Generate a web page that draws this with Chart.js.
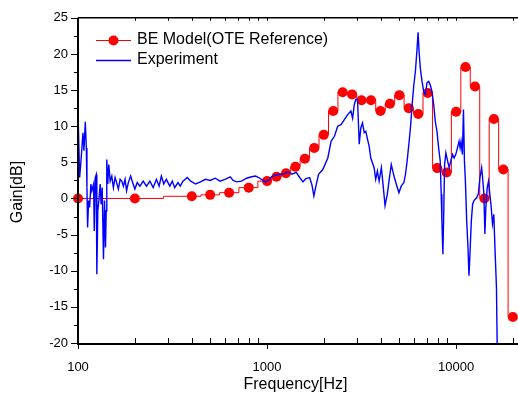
<!DOCTYPE html>
<html>
<head>
<meta charset="utf-8">
<title>Gain vs Frequency</title>
<script src="https://cdn.jsdelivr.net/npm/chart.js@4.4.1/dist/chart.umd.min.js"></script>
<style>
  html, body { margin: 0; padding: 0; background: #fff; }
  #wrap { width: 518px; height: 394px; }
</style>
</head>
<body>
<div id="wrap"><canvas id="gainChart" width="518" height="394"></canvas></div>
<script>
// BE model (OTE reference), one value per band centre
const modelFreq = [100, 200, 400, 500, 630, 800, 1000, 1122, 1259, 1413, 1585, 1778, 1995,
  2239, 2512, 2818, 3162, 3548, 3981, 4467, 5012, 5623, 6310, 7079, 7943, 8913, 10000,
  11220, 12589, 14125, 15849, 17783, 19953];
const modelGain = [0, 0, 0.3, 0.5, 0.8, 1.5, 2.4, 3.0, 3.5, 4.4, 5.5, 7.0, 8.8,
  12.1, 14.7, 14.4, 13.6, 13.6, 12.1, 13.1, 14.3, 12.5, 11.7, 14.6, 4.2, 3.6, 12.0,
  18.2, 15.5, 0, 11.0, 4.0, -16.4];

const expFreq = [100, 102, 103.7, 106.2, 107.5, 109.3, 110.7, 111.5, 112.4, 113.8, 115.2, 117,
  118.4, 120.9, 121.9, 123.4, 124.9, 125.8, 127.3, 128.9, 131, 132.6, 134.3, 136.4, 138.1,
  139.8, 141, 142, 143.7, 145.5, 148, 150.9, 153.9, 157.1, 160.1, 163.5, 167, 170.3, 173.8,
  177.4, 180.7, 184.6, 189.9, 194.5, 200, 205.7, 212.6, 221.2, 230.3, 240, 249.8, 260,
  268.5, 276, 284.2, 293.2, 305.9, 315.4, 324.6, 338, 347.5, 359, 378.6, 394.4, 418.8,
  444.5, 471.9, 501, 531.7, 564.5, 599.1, 639, 661.4, 690.7, 732.8, 779.1, 829, 870, 916.6,
  974.9, 1015, 1056, 1110, 1169, 1229, 1290, 1356, 1427, 1488, 1549, 1606, 1680, 1727,
  1769, 1813, 1873, 1972, 2096, 2181, 2272, 2365, 2461, 2564, 2669, 2777, 2835, 2894,
  2950, 3011, 3073, 3134, 3199, 3265, 3329, 3398, 3469, 3537, 3685, 3757, 3835, 3915,
  4025, 4123, 4209, 4327, 4417, 4541, 4692, 4824, 4984, 5125, 5295, 5399, 5510, 5625,
  5735, 5855, 5976, 6093, 6219, 6295, 6371, 6471, 6605, 6743, 6875, 7018, 7163, 7303,
  7454, 7610, 7759, 7920, 8084, 8241, 8342, 8412, 8515, 8587, 8692, 8830, 9015, 9191,
  9381, 9576, 9761, 9964, 10170, 10370, 10500, 10620, 10800, 10940, 11070, 11200, 11380,
  11560, 11700, 11840, 12040, 12230, 12430, 12840, 13110, 13370, 13650, 13810, 14030,
  14200, 14370, 14610, 14850, 15080, 15340, 15580, 15830, 16100, 16350, 16490, 16600];
const expGain = [12.1, 2.9, 5.2, 9.1, 6.6, 10.6, 7.0, 1.5, -4.0, -0.3, -1.25, 2.0,
  1.05, 2.0, -4.5, 2.9, 3.3, -10.5, -1.7, -0.3, 2.0, -0.8, 1.5, -8.4, -0.3,
  -6.8, -1.7, 5.4, 2.0, 4.7, 2.4, 3.1, 1.5, 2.9, 2.2, 1.3, 2.65, 2.4, 1.7,
  2.65, 1.05, 2.2, 3.1, 2.2, 1.3, 2.2, 1.7, 2.4, 1.7, 2.4, 1.5, 2.65,
  1.7, 3.1, 2.0, 2.65, 1.7, 2.4, 1.5, 2.2, 1.7, 2.4, 2.9, 2.4, 2.0,
  2.3, 2.65, 2.5, 2.8, 2.4, 2.65, 3.0, 2.5, 2.3, 2.4, 2.8, 3.0, 3.1, 2.8,
  2.3, 2.5, 3.0, 3.25, 3.35, 3.4, 3.7, 3.35, 3.6, 2.9, 2.3, 2.75, 2.9, 1.9,
  0.35, 1.7, 3.35, 4.0, 5.6, 7.9, 8.6, 10.0, 10.2, 10.9, 11.6, 12.1, 11.1, 13.0,
  13.7, 13.7, 7.5, 9.8, 10.45, 9.1, 9.3, 8.2, 7.2, 5.6, 4.25, 2.65, 3.8, 2.4,
  4.25, 1.5, -1.0, 0.6, 2.4, 4.7, 3.1, 2.0, 0.8, 1.7, 2.2, 3.35, 5.2, 7.5,
  9.8, 13.0, 15.7, 17.6, 20.8, 23.0, 20.3, 18.0, 16.2, 14.8, 14.4, 16.0, 16.2, 15.7,
  14.8, 13.0, 10.7, 9.3, 7.0, 5.2, 0.6, -3.1, -7.7, -3.1, 4.7, 6.3, 5.2, 4.25,
  5.2, 6.1, 5.6, 6.1, 7.0, 7.9, 7.0, 7.9, 6.1, 12.3, 5.2, 2.4, -3.1,
  -6.8, -10.7, -7.7, -3.1, -0.8, -0.3, 0.1, 0.6, 2.9, 4.25, 2.9, 0.6,
  -4.9, -1.25, 1.5, 2.4, 0.6, -1.25, -3.5, -2.2, -7.7, -12.3, -20, -24];

const xTickLabels = [100, 1000, 10000];
const yTickLabels = [-20, -15, -10, -5, 0, 5, 10, 15, 20, 25];
const seriesNames = ['BE Model(OTE Reference)', 'Experiment'];
const yTitle = 'Gain[dB]';

const FONT = "'Liberation Sans', Arial, sans-serif";

// frame + tick marks in the Origin style (y ticks out, x minor ticks in)
const frame = {
  id: 'frame',
  afterDraw(chart) {
    const { ctx, chartArea: a, scales: { x, y } } = chart;
    ctx.save();
    ctx.strokeStyle = '#000';

    ctx.lineWidth = 1;
    ctx.beginPath();
    for (let v = -20; v <= 25; v += 2.5) {
      const py = Math.round(y.getPixelForValue(v)) + 0.5;
      const len = v % 5 === 0 ? 7 : 4;
      ctx.moveTo(a.left - len, py);
      ctx.lineTo(a.left, py);
    }
    for (let d = 100; d <= 10000; d *= 10) {
      for (let m = 1; m <= 9; m++) {
        const f = d * m;
        if (f > 20000) break;
        const px = Math.round(x.getPixelForValue(f)) + 0.5;
        if (m === 1) {
          ctx.moveTo(px, a.bottom);
          ctx.lineTo(px, a.bottom + 6);
        } else {
          ctx.moveTo(px, a.bottom);
          ctx.lineTo(px, a.bottom - 5);
        }
        ctx.moveTo(px, a.top);
        ctx.lineTo(px, a.top + 3);
      }
    }
    ctx.stroke();

    ctx.lineWidth = 2;
    ctx.beginPath();
    ctx.moveTo(a.left, a.top);
    ctx.lineTo(a.left, a.bottom + 1);
    ctx.lineTo(chart.width, a.bottom + 1);
    ctx.stroke();
    ctx.lineWidth = 1.5;
    ctx.beginPath();
    ctx.moveTo(a.left, a.top);
    ctx.lineTo(chart.width, a.top);
    ctx.stroke();

    // y title, sits a little below the middle of the axis like the original
    ctx.translate(18, 192);
    ctx.rotate(-Math.PI / 2);
    ctx.fillStyle = '#000';
    ctx.font = '16px ' + FONT;
    ctx.textAlign = 'center';
    ctx.textBaseline = 'middle';
    ctx.fillText(yTitle, 0, 0);
    ctx.restore();
  }
};

// legend box in the upper left of the plot
const insideLegend = {
  id: 'insideLegend',
  afterDraw(chart) {
    const { ctx } = chart;
    const rows = [40, 60];
    ctx.save();
    chart.data.datasets.forEach((ds, i) => {
      const ly = rows[i];
      ctx.strokeStyle = ds.borderColor;
      ctx.lineWidth = ds.borderWidth;
      ctx.beginPath();
      ctx.moveTo(96, ly + 0.5);
      ctx.lineTo(131, ly + 0.5);
      ctx.stroke();
      if (ds.pointRadius > 0) {
        ctx.fillStyle = ds.pointBackgroundColor;
        ctx.beginPath();
        ctx.arc(113.5, ly + 0.5, ds.pointRadius, 0, Math.PI * 2);
        ctx.fill();
      }
      ctx.fillStyle = '#000';
      ctx.font = '16px ' + FONT;
      ctx.textBaseline = 'middle';
      ctx.fillText(seriesNames[i], 137, ly);
    });
    ctx.restore();
  }
};

const ctx = document.getElementById('gainChart').getContext('2d');
const gainChart = new Chart(ctx, {
  type: 'line',
  data: {
    datasets: [{
      label: seriesNames[0],
      data: modelFreq.map((f, i) => ({ x: f, y: modelGain[i] })),
      borderColor: '#ff0000',
      borderWidth: 1,
      stepped: 'middle',
      pointRadius: 5,
      pointBackgroundColor: '#ff0000',
      pointBorderWidth: 0,
      clip: false,
      order: 1
    }, {
      label: seriesNames[1],
      data: expFreq.map((f, i) => ({ x: f, y: expGain[i] })),
      borderColor: '#0000ff',
      borderWidth: 1.4,
      pointRadius: 0,
      tension: 0,
      order: 0
    }]
  },
  options: {
    responsive: false,
    animation: false,
    events: [],
    layout: { padding: { top: 16, right: 1, left: 0, bottom: 0 } },
    plugins: {
      legend: { display: false },
      tooltip: { enabled: false }
    },
    scales: {
      x: {
        type: 'logarithmic',
        min: 100,
        max: 20000,
        afterBuildTicks: axis => { axis.ticks = xTickLabels.map(v => ({ value: v })); },
        afterFit: axis => { axis.height = 51; },
        grid: { display: false, drawTicks: false },
        border: { display: false },
        ticks: {
          autoSkip: false,
          maxRotation: 0,
          padding: 17,
          color: '#000',
          font: { family: FONT, size: 13 },
          callback: v => String(v)
        },
        title: {
          display: true,
          text: 'Frequency[Hz]',
          color: '#000',
          font: { family: FONT, size: 16 },
          padding: { top: 1, bottom: 0 }
        }
      },
      y: {
        min: -20,
        max: 25,
        afterBuildTicks: axis => { axis.ticks = yTickLabels.map(v => ({ value: v })); },
        afterFit: axis => { axis.width = 78; },
        grid: { display: false, drawTicks: false },
        border: { display: false },
        ticks: {
          padding: 10,
          color: '#000',
          font: { family: FONT, size: 13 }
        }
      }
    }
  },
  plugins: [frame, insideLegend]
});
</script>
</body>
</html>
